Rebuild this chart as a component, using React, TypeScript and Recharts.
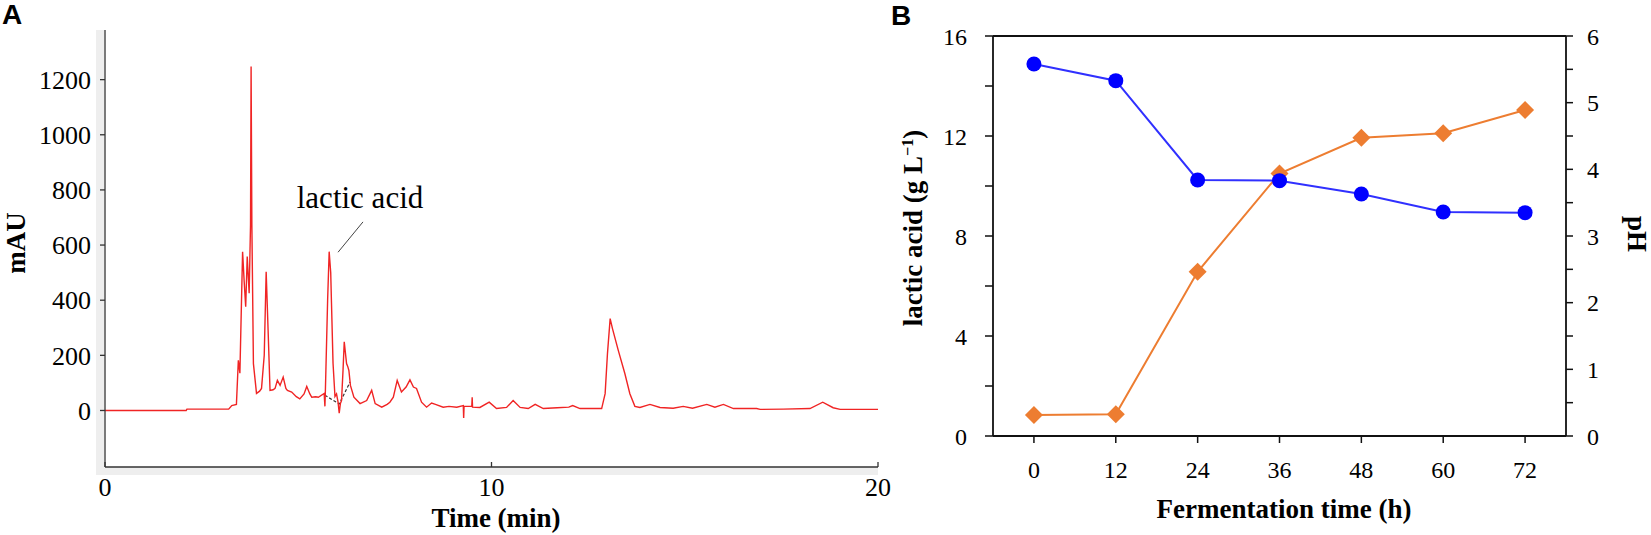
import React from 'react'
import { LineChart, Line, XAxis, YAxis, ReferenceLine } from 'recharts'

// Panel A – chromatogram trace (min / mAU)
const timeMin = [
  0, 2.1, 2.12, 3.2, 3.28, 3.4, 3.45, 3.49, 3.56, 3.6, 3.64, 3.68, 3.73, 3.765, 3.78, 3.8, 3.84, 3.92,
  4.0, 4.05, 4.12, 4.17, 4.22, 4.27, 4.35, 4.4, 4.46, 4.53, 4.61, 4.68, 4.72, 4.83, 4.95, 5.04, 5.15,
  5.22, 5.3, 5.35, 5.45, 5.52, 5.67, 5.69, 5.7, 5.76, 5.8, 5.84, 5.86, 5.9, 5.95, 5.99, 6.03, 6.06,
  6.09, 6.12, 6.16, 6.19, 6.25, 6.28, 6.31, 6.35, 6.44, 6.6, 6.77, 6.9, 6.99, 7.16, 7.3, 7.37, 7.46,
  7.56, 7.67, 7.79, 7.89, 7.98, 8.06, 8.19, 8.32, 8.45, 8.55, 8.75, 8.9, 9.1, 9.27, 9.28, 9.29, 9.49,
  9.5, 9.51, 9.7, 9.94, 10.13, 10.39, 10.56, 10.74, 10.95, 11.13, 11.34, 11.7, 12.0, 12.1, 12.29,
  12.85, 12.94, 13.0, 13.07, 13.13, 13.28, 13.45, 13.58, 13.71, 13.84, 14.1, 14.36, 14.7, 14.96,
  15.2, 15.57, 15.78, 16.0, 16.26, 16.86, 16.95, 17.55, 18.24, 18.57, 18.84, 19.02, 20,
]
const mau = [
  0, 0, 5, 5, 18, 22, 182, 135, 576, 470, 376, 558, 425, 673, 1248, 673, 170, 62,
  70, 80, 200, 503, 291, 73, 75, 80, 109, 91, 121, 80, 73, 67, 50, 42, 60,
  87, 60, 48, 50, 48, 62, 15, 60, 400, 576, 500, 389, 171, 51, 60, 30, -10,
  25, 36, 150, 249, 170, 160, 145, 91, 48, 25, 36, 73, 25, 12, 22, 30, 48,
  109, 67, 85, 111, 85, 80, 30, 12, 27, 22, 12, 15, 12, 18, -27, 15, 15,
  48, 12, 11, 30, 7, 11, 36, 11, 7, 22, 7, 10, 12, 18, 7,
  7, 61, 206, 333, 297, 218, 134, 61, 15, 11, 22, 11, 8, 15,
  8, 22, 12, 22, 7, 7, 4, 5, 7, 30, 10, 4, 4,
]

// dashed integration baseline under the lactic acid peak
const baseTime = [5.69, 6.06, 6.34]
const baseMau = [55, 24, 103]

const mauTicks = [0, 200, 400, 600, 800, 1000, 1200]
const timeTicks = [0, 10, 20]

// Panel B – fermentation
const fermHours = [0, 12, 24, 36, 48, 60, 72]
const lacticAcid = [0.84, 0.87, 6.57, 10.5, 11.93, 12.11, 13.04]
const phValues = [5.58, 5.33, 3.84, 3.83, 3.63, 3.36, 3.35]

const hourTicks = [0, 12, 24, 36, 48, 60, 72]
const lacticTicks = [0, 2, 4, 6, 8, 10, 12, 14, 16]
const phTicks = [0, 0.5, 1, 1.5, 2, 2.5, 3, 3.5, 4, 4.5, 5, 5.5, 6]

const chromData = timeMin.map((t, i) => ({ t, v: mau[i] }))
const baseData = baseTime.map((t, i) => ({ t, b: baseMau[i] }))
const fermData = fermHours.map((h, i) => ({ h, la: lacticAcid[i], ph: phValues[i] }))

const W = 1651
const H = 535
const serif = '"Liberation Serif", "Times New Roman", serif'
const sans = '"Liberation Sans", Arial, sans-serif'

const tickA = { fontFamily: serif, fontSize: 26, fill: '#000' }
const tickB = { fontFamily: serif, fontSize: 24, fill: '#000' }

const RED = '#f02424'
const ORANGE = '#ED7D31'
const BLUE = '#0000ff'

// axis boxes (space reserved by recharts next to the plot)
const AX_W = 60
const AX_H = 40

function Diamond(props: any) {
  const { cx, cy, index } = props
  if (cx == null || cy == null) return <g key={`d-${index}`} />
  const s = 9
  return (
    <path
      key={`d-${index}`}
      d={`M${cx},${cy - s}L${cx + s},${cy}L${cx},${cy + s}L${cx - s},${cy}Z`}
      fill={ORANGE}
    />
  )
}

function Title(props: { x: number; y: number; rot?: number; size?: number; bold?: boolean; font?: string; children: React.ReactNode }) {
  const { x, y, rot = 0, size = 27, bold = true, font = serif } = props
  return (
    <div
      style={{
        position: 'absolute',
        left: x,
        top: y,
        transform: `translate(-50%, -50%) rotate(${rot}deg)`,
        fontFamily: font,
        fontSize: size,
        fontWeight: bold ? 'bold' : 'normal',
        lineHeight: 1,
        whiteSpace: 'nowrap',
        color: '#000',
      }}
    >
      {props.children}
    </div>
  )
}

export default function App() {
  return (
    <div style={{ position: 'absolute', left: 0, top: 0, width: W, height: H, background: '#fff', overflow: 'hidden' }}>
      {/* grey frame strips of the chromatogram */}
      <div style={{ position: 'absolute', left: 96, top: 30, width: 8, height: 445, background: '#eeeeee' }} />
      <div style={{ position: 'absolute', left: 96, top: 467, width: 782, height: 8, background: '#eeeeee' }} />

      {/* Panel A */}
      <div style={{ position: 'absolute', left: 0, top: 0 }}>
        <LineChart width={W} height={H} data={chromData} margin={{ top: 30, right: W - 878, bottom: H - 467 - AX_H, left: 105 - AX_W }}>
          <XAxis
            dataKey="t"
            type="number"
            domain={[0, 20]}
            ticks={timeTicks}
            allowDataOverflow
            height={AX_H}
            tickSize={-5}
            tickMargin={16}
            tick={tickA}
            axisLine={{ stroke: '#333', strokeWidth: 1.3 }}
            tickLine={{ stroke: '#333', strokeWidth: 1.3 }}
          />
          <YAxis
            type="number"
            domain={[-205, 1380]}
            ticks={mauTicks}
            allowDataOverflow
            width={AX_W}
            tickSize={5}
            tickMargin={9}
            tick={tickA}
            axisLine={{ stroke: '#333', strokeWidth: 1.3 }}
            tickLine={{ stroke: '#333', strokeWidth: 1.3 }}
          />
          <Line data={baseData} dataKey="b" stroke="#333" strokeWidth={1.2} strokeDasharray="3 2" dot={false} activeDot={false} isAnimationActive={false} />
          <Line dataKey="v" type="linear" stroke={RED} strokeWidth={1.4} dot={false} activeDot={false} isAnimationActive={false} />
          <ReferenceLine
            segment={[{ x: 6.675, y: 684 }, { x: 6.03, y: 574 }]}
            stroke="#444"
            strokeWidth={1}
            ifOverflow="visible"
          />
        </LineChart>
      </div>

      {/* Panel B */}
      <div style={{ position: 'absolute', left: 0, top: 0 }}>
        <LineChart width={W} height={H} data={fermData} margin={{ top: 36, right: W - 1566 - AX_W, bottom: H - 436 - AX_H, left: 993 - AX_W }}>
          <XAxis
            dataKey="h"
            type="number"
            domain={[-6, 78]}
            ticks={hourTicks}
            height={AX_H}
            tickSize={7}
            tickMargin={18}
            tick={tickB}
            axisLine={{ stroke: '#111', strokeWidth: 1.8 }}
            tickLine={{ stroke: '#111', strokeWidth: 1.5 }}
          />
          <YAxis
            yAxisId="la"
            type="number"
            domain={[0, 16]}
            ticks={lacticTicks}
            width={AX_W}
            tickSize={8}
            tickMargin={18}
            tick={tickB}
            tickFormatter={(v: number) => (v % 4 === 0 ? String(v) : '')}
            axisLine={{ stroke: '#111', strokeWidth: 1.8 }}
            tickLine={{ stroke: '#111', strokeWidth: 1.5 }}
          />
          <YAxis
            yAxisId="ph"
            orientation="right"
            type="number"
            domain={[0, 6]}
            ticks={phTicks}
            width={AX_W}
            tickSize={7}
            tickMargin={14}
            tick={tickB}
            tickFormatter={(v: number) => (Number.isInteger(v) ? String(v) : '')}
            axisLine={{ stroke: '#111', strokeWidth: 1.8 }}
            tickLine={{ stroke: '#111', strokeWidth: 1.5 }}
          />
          <ReferenceLine yAxisId="la" y={16} stroke="#111" strokeWidth={1.8} ifOverflow="visible" />
          <Line yAxisId="la" dataKey="la" type="linear" stroke={ORANGE} strokeWidth={2} dot={<Diamond />} activeDot={false} isAnimationActive={false} />
          <Line yAxisId="ph" dataKey="ph" type="linear" stroke="#3030ff" strokeWidth={2} dot={{ r: 7.5, fill: BLUE, stroke: BLUE, strokeWidth: 0 }} activeDot={false} isAnimationActive={false} />
        </LineChart>
      </div>

      {/* panel letters, axis titles and annotation */}
      <div style={{ position: 'absolute', left: 2, top: 1, fontFamily: sans, fontWeight: 'bold', fontSize: 28, lineHeight: 1 }}>A</div>
      <div style={{ position: 'absolute', left: 891, top: 2, fontFamily: sans, fontWeight: 'bold', fontSize: 28, lineHeight: 1 }}>B</div>

      <Title x={16} y={243} rot={-90}>mAU</Title>
      <Title x={496} y={518}>Time (min)</Title>
      <Title x={360} y={197} size={31} bold={false}>lactic acid</Title>

      <Title x={913} y={228} rot={-90}>
        lactic acid (g L<sup style={{ fontSize: '0.6em', verticalAlign: '0.55em', lineHeight: 0 }}>−1</sup>)
      </Title>
      <Title x={1284} y={509}>Fermentation time (h)</Title>
      <Title x={1636} y={234} rot={90}>pH</Title>
    </div>
  )
}
